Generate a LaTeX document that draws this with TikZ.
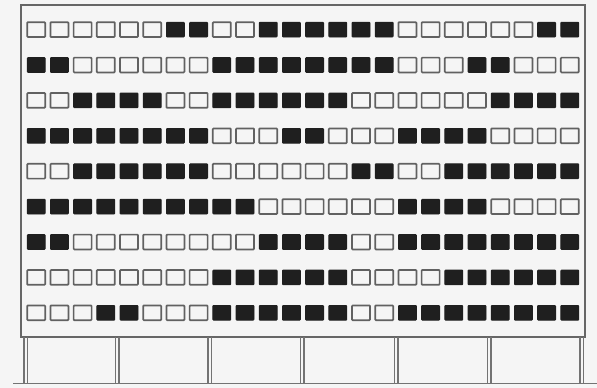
\documentclass[tikz,border=0pt]{standalone}
\begin{document}
\begin{tikzpicture}[x=1pt,y=-1pt,
  w0/.style={draw=black!62, line width=1.7pt, fill=white!96!black, rounded corners=0.8pt},
  w1/.style={draw=black!88, line width=0.8pt, fill=black!88, rounded corners=0.8pt},
  outline/.style={draw=black!60, line width=1.3pt},
  baseline/.style={draw=black!55, line width=1.1pt}]
\fill[white!96!black] (0,0) rectangle (597,388);
\useasboundingbox (0,0) rectangle (597,388);
% main facade
\draw[outline] (21,5) rectangle (585,337);
% windows
\foreach \pat [count=\r] in {
 {0,0,0,0,0,0,1,1,0,0,1,1,1,1,1,1,0,0,0,0,0,0,1,1},
 {1,1,0,0,0,0,0,0,1,1,1,1,1,1,1,1,0,0,0,1,1,0,0,0},
 {0,0,1,1,1,1,0,0,1,1,1,1,1,1,0,0,0,0,0,0,1,1,1,1},
 {1,1,1,1,1,1,1,1,0,0,0,1,1,0,0,0,1,1,1,1,0,0,0,0},
 {0,0,1,1,1,1,1,1,0,0,0,0,0,0,1,1,0,0,1,1,1,1,1,1},
 {1,1,1,1,1,1,1,1,1,1,0,0,0,0,0,0,1,1,1,1,0,0,0,0},
 {1,1,0,0,0,0,0,0,0,0,1,1,1,1,0,0,1,1,1,1,1,1,1,1},
 {0,0,0,0,0,0,0,0,1,1,1,1,1,1,0,0,0,0,1,1,1,1,1,1},
 {0,0,0,1,1,0,0,0,1,1,1,1,1,1,0,0,1,1,1,1,1,1,1,1}} {
  \foreach \v [count=\c] in \pat {
    \path[w\v] ({27.2+(\c-1)*23.2},{22.2+(\r-1)*35.4}) rectangle ++(18,14.8);
  }
}
% base with double pilasters
\foreach \xa in {24,115.5,208,300.5,394.5,487.5,580}{
  \draw[baseline] (\xa,337) -- (\xa,383);
  \draw[baseline] ({\xa+3.5},337) -- ({\xa+3.5},383);
}
\draw[baseline] (13,383.5) -- (597,383.5);
\end{tikzpicture}
\end{document}
